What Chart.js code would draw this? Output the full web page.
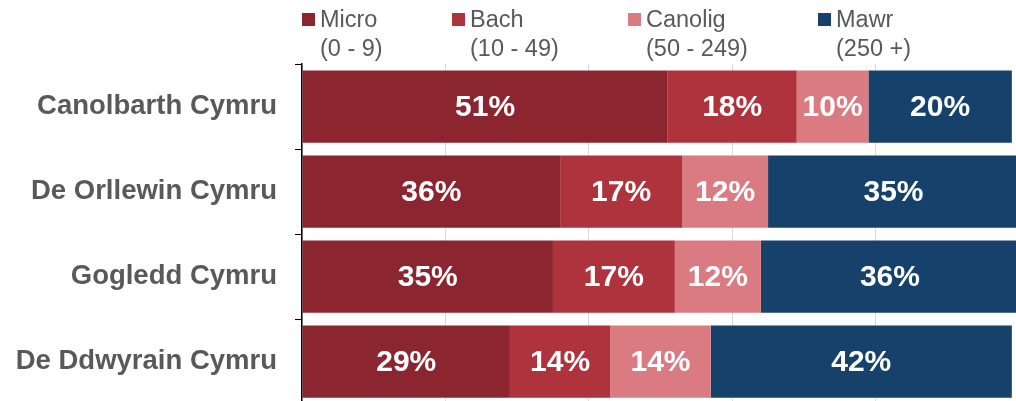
<!DOCTYPE html>
<html>
<head>
<meta charset="utf-8">
<script src="https://cdn.jsdelivr.net/npm/chart.js@4"></script>
<style>
    html, body { margin: 0; padding: 0; overflow: hidden; background: #fff; }
</style>
</head>
<body>
<canvas id="barChart" width="1020" height="405"></canvas>
<script>
// rhanbarthau (categories)
const regions = ["Canolbarth Cymru", "De Orllewin Cymru", "Gogledd Cymru", "De Ddwyrain Cymru"];

// maint busnes (series)
const sizeNames = ["Micro", "Bach", "Canolig", "Mawr"];
const sizeRanges = ["(0 - 9)", "(10 - 49)", "(50 - 249)", "(250 +)"];

// canrannau ar gyfer pob maint
const micro = [51, 36, 35, 29];
const bach = [18, 17, 17, 14];
const canolig = [10, 12, 12, 14];
const mawr = [20, 35, 36, 42];

const colours = ["#8b2630", "#ae333d", "#da7b82", "#15416b"];
const fontFamily = "'Liberation Sans', Arial, sans-serif";

// labeli gwyn yng nghanol pob bar
const valueLabels = {
    id: "valueLabels",
    afterDatasetsDraw(chart) {
        const ctx = chart.ctx;
        ctx.save();
        ctx.fillStyle = "#ffffff";
        ctx.font = "bold 30px " + fontFamily;
        ctx.textAlign = "center";
        ctx.textBaseline = "middle";
        chart.data.datasets.forEach((ds, i) => {
            chart.getDatasetMeta(i).data.forEach((bar, j) => {
                const cx = (bar.x + bar.base) / 2;
                ctx.fillText(ds.data[j] + "%", cx, bar.y + 1);
            });
        });
        ctx.restore();
    }
};

// allwedd ar ddwy linell
const twoLineLegend = {
    id: "twoLineLegend",
    afterDraw(chart) {
        const ctx = chart.ctx;
        const xs = [302, 452, 628, 818];
        ctx.save();
        ctx.font = "23.5px " + fontFamily;
        ctx.textBaseline = "alphabetic";
        ctx.textAlign = "left";
        chart.data.datasets.forEach((ds, i) => {
            ctx.fillStyle = ds.backgroundColor;
            ctx.fillRect(xs[i], 13, 13, 13);
            ctx.fillStyle = "#595959";
            ctx.fillText(ds.label, xs[i] + 18, 27);
            ctx.fillText(sizeRanges[i], xs[i] + 18, 56);
        });
        ctx.restore();
    }
};

const seriesData = [micro, bach, canolig, mawr];

new Chart(document.getElementById("barChart"), {
    type: "bar",
    data: {
        labels: regions,
        datasets: sizeNames.map((name, i) => ({
            label: name,
            data: seriesData[i],
            backgroundColor: colours[i],
            borderWidth: 0,
            barPercentage: 0.85,
            categoryPercentage: 1
        }))
    },
    options: {
        indexAxis: "y",
        responsive: false,
        animation: false,
        devicePixelRatio: 1,
        layout: { padding: { top: 64, right: 1, bottom: 1, left: 0 } },
        plugins: {
            legend: { display: false },
            tooltip: { enabled: false }
        },
        scales: {
            x: {
                stacked: true,
                min: 0,
                max: 100,
                ticks: { display: false, stepSize: 20 },
                grid: { color: "#d9d9d9", drawTicks: false },
                border: { display: false },
                afterFit(scale) { scale.height = 0; }
            },
            y: {
                stacked: true,
                ticks: {
                    color: "#595959",
                    font: { family: fontFamily, size: 27.5, weight: "bold" },
                    padding: 18
                },
                grid: {
                    display: true,
                    drawOnChartArea: false,
                    drawTicks: true,
                    tickLength: 7,
                    color: "#000000",
                    offset: true
                },
                border: { color: "#000000", width: 1.5 },
                afterFit(scale) {
                    scale.width = 302;
                    scale.paddingTop = 0;
                    scale.paddingBottom = 0;
                }
            }
        }
    },
    plugins: [valueLabels, twoLineLegend]
});
</script>
</body>
</html>
